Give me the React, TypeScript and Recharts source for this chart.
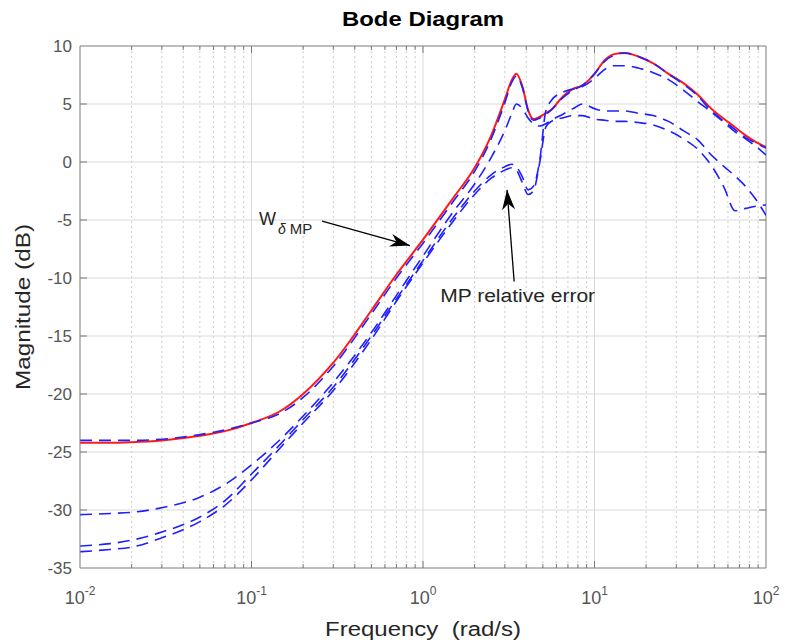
import React from "react"
import { LineChart, Line, XAxis, YAxis, ReferenceLine } from "recharts"

// frequency grid (rad/s) and magnitudes (dB)
const freq = [0.01, 0.015, 0.02, 0.03, 0.05, 0.07, 0.1, 0.15, 0.2, 0.3, 0.5, 0.7, 1, 1.5, 2, 2.5, 3, 3.3, 3.5, 3.8, 4.1, 4.4, 4.8, 5.2, 5.6, 6.5, 7.5, 8.5, 10, 11.5, 13, 15, 18, 22, 27, 33, 40, 48, 57, 66, 76, 88, 100]

// W_delta MP (red, solid)
const wMP = [-24.2, -24.2, -24.15, -24.0, -23.6, -23.2, -22.5, -21.4, -20.0, -17.3, -12.8, -9.7, -6.7, -3.1, -0.5, 2.3, 5.4, 7.1, 7.6, 6.5, 4.5, 3.7, 3.9, 4.2, 4.5, 5.6, 6.3, 6.6, 7.6, 8.8, 9.3, 9.4, 9.1, 8.5, 7.6, 6.8, 5.8, 4.6, 3.7, 3.0, 2.3, 1.7, 1.3]

// MP relative errors (blue, dashed)
const err1 = [-24.0, -24.0, -24.0, -23.9, -23.5, -23.1, -22.5, -21.6, -20.3, -17.6, -13.1, -10.0, -7.0, -3.4, -0.8, 2.0, 5.1, 6.9, 7.4, 6.4, 4.4, 3.6, 3.8, 4.1, 4.5, 5.5, 6.2, 6.6, 7.6, 8.7, 9.2, 9.4, 9.1, 8.5, 7.6, 6.7, 5.7, 4.4, 3.5, 2.8, 2.1, 1.6, 1.2]
const err2 = [-30.4, -30.3, -30.2, -29.8, -28.9, -27.8, -26.1, -23.8, -21.9, -19.0, -14.7, -11.5, -8.1, -4.3, -1.9, 0.4, 2.7, 4.2, 5.0, 4.6, 3.8, 3.3, 3.1, 3.3, 3.6, 4.1, 4.6, 5.0, 4.6, 4.4, 4.4, 4.4, 4.2, 4.0, 3.5, 2.7, 1.9, 0.6, -0.4, -1.2, -2.1, -3.3, -4.6]
const err3 = [-33.1, -32.9, -32.6, -31.9, -30.6, -29.2, -26.9, -24.2, -22.2, -19.4, -15.0, -11.8, -8.5, -4.8, -2.5, -1.1, -0.4, -0.2, -0.4, -1.3, -2.4, -2.1, 0.2, 4.4, 5.3, 6.0, 6.3, 6.5, 7.2, 8.0, 8.3, 8.3, 8.1, 7.7, 7.1, 6.2, 5.2, 4.3, 3.4, 2.6, 2.0, 1.3, 0.6]
const err4 = [-33.6, -33.4, -33.2, -32.4, -31.0, -29.6, -27.4, -24.5, -22.5, -19.7, -15.3, -12.0, -8.7, -5.1, -2.8, -1.4, -0.7, -0.5, -0.7, -1.8, -2.8, -2.5, 0.0, 3.0, 3.5, 3.8, 4.0, 4.0, 3.7, 3.6, 3.5, 3.5, 3.4, 3.2, 2.7, 2.0, 1.1, -0.3, -2.2, -4.2, -4.0, -3.8, -3.7]

const xMajor = [0.01, 0.1, 1, 10, 100]
const xMinor = [0.02, 0.03, 0.04, 0.05, 0.06, 0.07, 0.08, 0.09, 0.2, 0.3, 0.4, 0.5, 0.6, 0.7, 0.8, 0.9, 2, 3, 4, 5, 6, 7, 8, 9, 20, 30, 40, 50, 60, 70, 80, 90]
const yTicks = [-35, -30, -25, -20, -15, -10, -5, 0, 5, 10]

const data = freq.map((f, i) => ({ f, w: wMP[i], e1: err1[i], e2: err2[i], e3: err3[i], e4: err4[i] }))

const FONT = "'Liberation Sans', Arial, Helvetica, sans-serif"
const AXIS = "#7a7a7a"
const TICK_TXT = "#555555"
const GRID = "#d9d9d9"
const GRID_MINOR = "#cccccc"
const BLUE = "#1f1fff"

const XTick = ({ x, y, payload }: any) => {
  const e = Math.round(Math.log10(payload.value))
  return (
    <text x={x} y={y + 28} textAnchor="middle" fill={TICK_TXT} fontSize={18} fontFamily={FONT}>
      <tspan>10</tspan>
      <tspan dy={-9} fontSize={12}>{e}</tspan>
    </text>
  )
}

// vertical grid line with inward ticks on top and bottom edges
const vGrid = (major: boolean) => (p: any) => {
  const top = Math.min(p.y1, p.y2)
  const bot = Math.max(p.y1, p.y2)
  const t = major ? 7 : 4
  return (
    <g>
      <line x1={p.x1} x2={p.x2} y1={p.y1} y2={p.y2} stroke={major ? GRID : GRID_MINOR}
        strokeDasharray={major ? undefined : "2 3"} />
      <line x1={p.x1} x2={p.x1} y1={bot} y2={bot - t} stroke={AXIS} />
      <line x1={p.x1} x2={p.x1} y1={top} y2={top + t} stroke={AXIS} />
    </g>
  )
}

const hGrid = (p: any) => {
  const l = Math.min(p.x1, p.x2)
  const r = Math.max(p.x1, p.x2)
  return (
    <g>
      <line x1={p.x1} x2={p.x2} y1={p.y1} y2={p.y2} stroke={GRID} />
      <line x1={l} x2={l + 7} y1={p.y1} y2={p.y1} stroke={AXIS} />
      <line x1={r} x2={r - 7} y1={p.y1} y2={p.y1} stroke={AXIS} />
    </g>
  )
}

const arrowHead = (x1: number, y1: number, x2: number, y2: number) => {
  const a = Math.atan2(y2 - y1, x2 - x1)
  const L = 20
  const W = 6.5
  const cx = Math.cos(a)
  const sy = Math.sin(a)
  const bx = x2 - L * cx
  const by = y2 - L * sy
  const nx = x2 - L * 0.7 * cx
  const ny = y2 - L * 0.7 * sy
  const pts = [
    [x2, y2],
    [bx - W * sy, by + W * cx],
    [nx, ny],
    [bx + W * sy, by - W * cx],
  ]
  return <polygon points={pts.map((q) => q.join(",")).join(" ")} fill="#000" />
}

const WArrow = (p: any) => (
  <g>
    <line x1={p.x1} y1={p.y1} x2={p.x2} y2={p.y2} stroke="#000" strokeWidth={1.3} />
    {arrowHead(p.x1, p.y1, p.x2, p.y2)}
    <text x={p.x1 - 63} y={p.y1 + 4} fontSize={18} fontFamily={FONT} fill="#262626">
      W
      <tspan dx={2} dy={9} fontSize={14} fontStyle="italic">δ</tspan>
      <tspan dx={4} fontSize={15}>MP</tspan>
    </text>
  </g>
)

const MPArrow = (p: any) => (
  <g>
    <line x1={p.x1} y1={p.y1} x2={p.x2} y2={p.y2} stroke="#000" strokeWidth={1.3} />
    {arrowHead(p.x1, p.y1, p.x2, p.y2)}
    <text x={p.x1 - 74} y={p.y1 + 21} fontSize={18} fontFamily={FONT} fill="#262626"
      textLength={155} lengthAdjust="spacingAndGlyphs">
      MP relative error
    </text>
  </g>
)

export default function App() {
  return (
    <div style={{ position: "absolute", left: 0, top: 0, width: 787, height: 643, background: "#fff" }}>
      <LineChart width={787} height={643} data={data} margin={{ top: 46, right: 21, bottom: 35, left: 20 }}>
        <XAxis dataKey="f" type="number" scale="log" domain={[0.01, 100]} allowDataOverflow
          ticks={xMajor} interval={0} tick={<XTick />} tickLine={false} height={40}
          axisLine={{ stroke: AXIS }} />
        <YAxis type="number" domain={[-35, 10]} ticks={yTicks} interval={0} width={60}
          tickLine={false} axisLine={{ stroke: AXIS }} tickMargin={2}
          tick={{ fill: TICK_TXT, fontSize: 17, fontFamily: FONT }} />

        {xMinor.map((v) => (
          <ReferenceLine key={"m" + v} x={v} shape={vGrid(false)} zIndex={-100} />
        ))}
        {xMajor.slice(1, 4).map((v) => (
          <ReferenceLine key={"M" + v} x={v} shape={vGrid(true)} zIndex={-100} />
        ))}
        {yTicks.slice(1, 9).map((v) => (
          <ReferenceLine key={"y" + v} y={v} shape={hGrid} zIndex={-100} />
        ))}
        <ReferenceLine y={10} stroke={AXIS} />
        <ReferenceLine x={100} stroke={AXIS} />

        <Line type="monotone" dataKey="w" stroke="#ff1a1a" strokeWidth={2} dot={false} isAnimationActive={false} />
        <Line type="monotone" dataKey="e1" stroke={BLUE} strokeWidth={1.6} strokeDasharray="12 7" dot={false} isAnimationActive={false} />
        <Line type="monotone" dataKey="e2" stroke={BLUE} strokeWidth={1.6} strokeDasharray="12 7" dot={false} isAnimationActive={false} />
        <Line type="monotone" dataKey="e3" stroke={BLUE} strokeWidth={1.6} strokeDasharray="12 7" dot={false} isAnimationActive={false} />
        <Line type="monotone" dataKey="e4" stroke={BLUE} strokeWidth={1.6} strokeDasharray="12 7" dot={false} isAnimationActive={false} />

        <ReferenceLine segment={[{ x: 0.258, y: -5.1 }, { x: 0.839, y: -7.2 }]} shape={WArrow} zIndex={2000} />
        <ReferenceLine segment={[{ x: 3.4, y: -10.3 }, { x: 3.09, y: -2.4 }]} shape={MPArrow} zIndex={2000} />
      </LineChart>
      <svg width={787} height={643} style={{ position: "absolute", left: 0, top: 0, pointerEvents: "none" }}>
        <text x={423} y={26} textAnchor="middle" fontSize={20} fontWeight="bold" fontFamily={FONT} fill="#000"
          textLength={162} lengthAdjust="spacingAndGlyphs">
          Bode Diagram
        </text>
        <text x={423} y={636} textAnchor="middle" fontSize={20} fontFamily={FONT} fill="#262626"
          textLength={196} lengthAdjust="spacingAndGlyphs" xmlSpace="preserve">
          Frequency  (rad/s)
        </text>
        <text x={0} y={0} transform="translate(30,307) rotate(-90)" textAnchor="middle" fontSize={20}
          fontFamily={FONT} fill="#262626" textLength={166} lengthAdjust="spacingAndGlyphs">
          Magnitude (dB)
        </text>
      </svg>
    </div>
  )
}
